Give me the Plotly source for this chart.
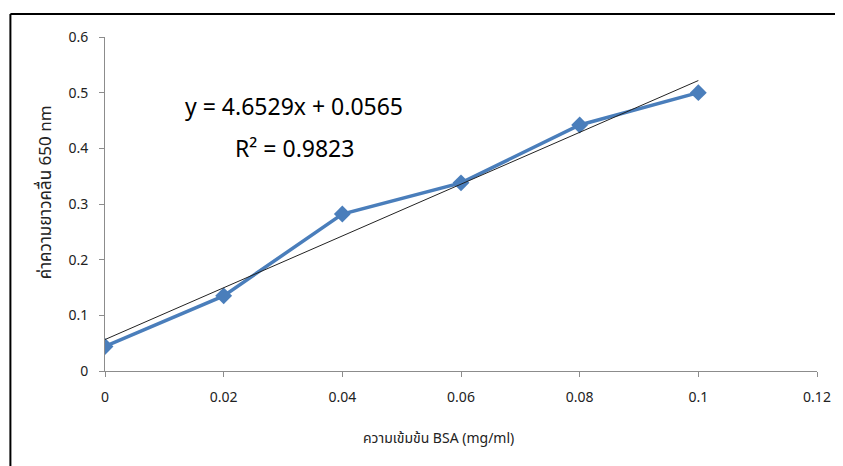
import plotly.graph_objects as go

# Data
concentration = [0, 0.02, 0.04, 0.06, 0.08, 0.1]
absorbance = [0.044, 0.135, 0.282, 0.338, 0.442, 0.5]
slope = 4.6529
intercept = 0.0565
r_squared = 0.9823
x_title = "ความเข้มข้น BSA (mg/ml)"
y_title = "ค่าความยาวคลื่น 650 nm"

trend_x = [concentration[0], concentration[-1]]
trend_y = [slope * v + intercept for v in trend_x]

FONT = "Tahoma, 'Noto Sans Thai', 'Noto Sans', 'DejaVu Sans', sans-serif"

fig = go.Figure()
fig.add_trace(go.Scatter(
    x=concentration, y=absorbance, mode="lines+markers",
    line=dict(color="#4A7EBB", width=3.5),
    marker=dict(symbol="diamond", size=13, color="#4A7EBB"),
    showlegend=False, hoverinfo="skip",
))
fig.add_trace(go.Scatter(
    x=trend_x, y=trend_y, mode="lines",
    line=dict(color="#222222", width=1),
    showlegend=False, hoverinfo="skip",
))

# page body has an 8px offset; figure coordinates are relative to it
OFF = 8
W, H = 835, 458
L, R, T, B = 97, 23, 29, 95
pw, ph = W - L - R, H - T - B

def px_to_paper_x(px):
    return (px - OFF - L) / pw

def px_to_paper_y(py):
    return (H - B - (py - OFF)) / ph

def add_text(px, py, text, size, color="#000000", angle=0):
    fig.add_annotation(
        x=px_to_paper_x(px), y=px_to_paper_y(py), xref="paper", yref="paper",
        xanchor="center", yanchor="middle", text=text, showarrow=False,
        textangle=angle, font=dict(size=size, color=color, family=FONT),
    )

add_text(295, 108, f"y = {slope}x + {intercept}", 23)
add_text(295, 150, f"R² = {r_squared}", 23)
add_text(440, 438, x_title, 14, "#222222")
add_text(46, 192, y_title, 17, "#222222", -90)

# outer frame lines (top and left)
fx = px_to_paper_x(10)
fy = px_to_paper_y(14)
fig.add_shape(type="line", xref="paper", yref="paper",
              x0=fx, x1=px_to_paper_x(860), y0=fy, y1=fy,
              line=dict(color="#000000", width=2))
fig.add_shape(type="line", xref="paper", yref="paper",
              x0=fx, x1=fx, y0=fy, y1=px_to_paper_y(480),
              line=dict(color="#000000", width=2))

fig.update_layout(
    width=W, height=H,
    margin=dict(l=L, r=R, t=T, b=B),
    paper_bgcolor="white", plot_bgcolor="white",
    font=dict(family=FONT, color="#222222", size=14),
    xaxis=dict(
        range=[0, 0.12], dtick=0.02, tick0=0,
        showgrid=False, zeroline=False,
        showline=True, linecolor="#8C8C8C", linewidth=1,
        ticks="outside", ticklen=5, tickcolor="#8C8C8C",
        ticklabelstandoff=8,
        tickfont=dict(size=14, color="#222222"),
    ),
    yaxis=dict(
        range=[0, 0.6], dtick=0.1, tick0=0,
        showgrid=False, zeroline=False,
        showline=True, linecolor="#8C8C8C", linewidth=1,
        ticks="outside", ticklen=5, tickcolor="#8C8C8C",
        ticklabelstandoff=8,
        tickfont=dict(size=14, color="#222222"),
    ),
)

fig.write_html("out.html")
